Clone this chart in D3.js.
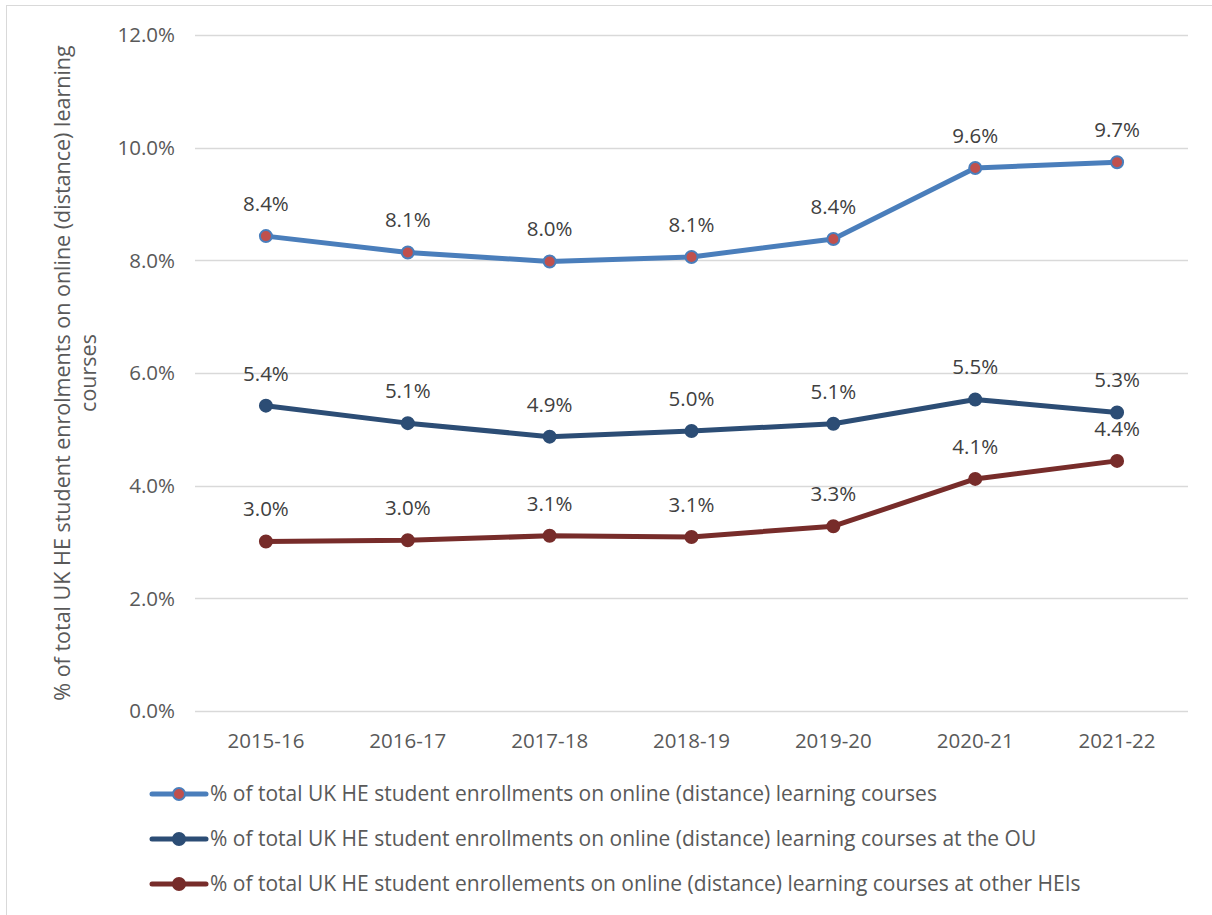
<!DOCTYPE html>
<html><head><meta charset="utf-8">
<script src="https://cdn.jsdelivr.net/npm/d3@7"></script>
<style>body{margin:0;background:#fff}svg{display:block}text{font-family:"Open Sans","Noto Sans",sans-serif}</style>
</head><body><svg id="c" width="1212" height="915"></svg>
<script>
const categories = ["2015-16","2016-17","2017-18","2018-19","2019-20","2020-21","2021-22"];
const seriesNames = [
  "% of total UK HE student enrollments on online (distance) learning courses",
  "% of total UK HE student enrollments on online (distance) learning courses at the OU",
  "% of total UK HE student enrollements on online (distance) learning courses at other HEIs"
];
const totalValues = [8.43, 8.14, 7.98, 8.06, 8.38, 9.64, 9.74];
const ouValues = [5.42, 5.11, 4.87, 4.97, 5.10, 5.53, 5.30];
const otherValues = [3.01, 3.03, 3.11, 3.09, 3.28, 4.12, 4.44];
const yTicks = [0, 2, 4, 6, 8, 10, 12];
const yTitleLines = ["% of total UK HE student enrolments on online (distance) learning", "courses"];

const svg = d3.select("#c");
svg.append("rect").attr("x",6.5).attr("y",5.5).attr("width",1220).attr("height",920)
  .attr("fill","none").attr("stroke","#d9d9d9").attr("stroke-width",1);

const x = d3.scaleBand().domain(categories).range([195,1188]);
const y = d3.scaleLinear().domain([0,12]).range([711,35]);

svg.append("g").selectAll("line").data(yTicks).join("line")
  .attr("x1",195).attr("x2",1188).attr("y1",d=>Math.round(y(d))+0.5).attr("y2",d=>Math.round(y(d))+0.5)
  .attr("stroke","#d9d9d9").attr("stroke-width",1.3);

svg.append("g").selectAll("text").data(yTicks).join("text")
  .attr("x",175).attr("y",d=>y(d)).attr("dy","0.35em").attr("text-anchor","end")
  .attr("fill","#595959").attr("font-size",20.5).text(d=>d.toFixed(1)+"%");

svg.append("g").selectAll("text").data(categories).join("text")
  .attr("x",d=>x(d)+x.bandwidth()/2).attr("y",748).attr("text-anchor","middle")
  .attr("fill","#595959").attr("font-size",20.5).text(d=>d);

const yt = svg.append("text").attr("transform","translate(70,373) rotate(-90)")
  .attr("text-anchor","middle").attr("fill","#595959").attr("font-size",21.5);
yTitleLines.forEach((l,i)=>yt.append("tspan").attr("x",0).attr("dy",i?"1.2em":0).text(l));

const series = [
  {vals: totalValues, line:"#4a7ebb", fill:"#c0504d", stroke:"#4a7ebb"},
  {vals: ouValues, line:"#2c4d75", fill:"#2c4d75", stroke:"#2c4d75"},
  {vals: otherValues, line:"#772c2a", fill:"#772c2a", stroke:"#772c2a"}
];
const cx = d=>x(d)+x.bandwidth()/2;
const line = d3.line().x((d,i)=>cx(categories[i])).y(d=>y(d));

series.forEach(s=>{
  svg.append("path").datum(s.vals).attr("d",line).attr("fill","none")
    .attr("stroke",s.line).attr("stroke-width",5).attr("stroke-linejoin","round");
  svg.append("g").selectAll("circle").data(s.vals).join("circle")
    .attr("cx",(d,i)=>cx(categories[i])).attr("cy",d=>y(d)).attr("r",6)
    .attr("fill",s.fill).attr("stroke",s.stroke).attr("stroke-width",2);
  svg.append("g").selectAll("text").data(s.vals).join("text")
    .attr("x",(d,i)=>cx(categories[i])).attr("y",d=>y(d)-25).attr("text-anchor","middle")
    .attr("fill","#404040").attr("font-size",20.5).text(d=>d.toFixed(1)+"%");
});

const lg = svg.append("g");
series.forEach((s,i)=>{
  const yy = 794 + i*45;
  lg.append("line").attr("x1",152).attr("x2",206).attr("y1",yy).attr("y2",yy)
    .attr("stroke",s.line).attr("stroke-width",5).attr("stroke-linecap","round");
  lg.append("circle").attr("cx",179).attr("cy",yy).attr("r",6)
    .attr("fill",s.fill).attr("stroke",s.stroke).attr("stroke-width",2);
  lg.append("text").attr("x",210).attr("y",yy).attr("dy","0.35em")
    .attr("fill","#595959").attr("font-size",21).text(seriesNames[i]);
});
</script></body></html>
